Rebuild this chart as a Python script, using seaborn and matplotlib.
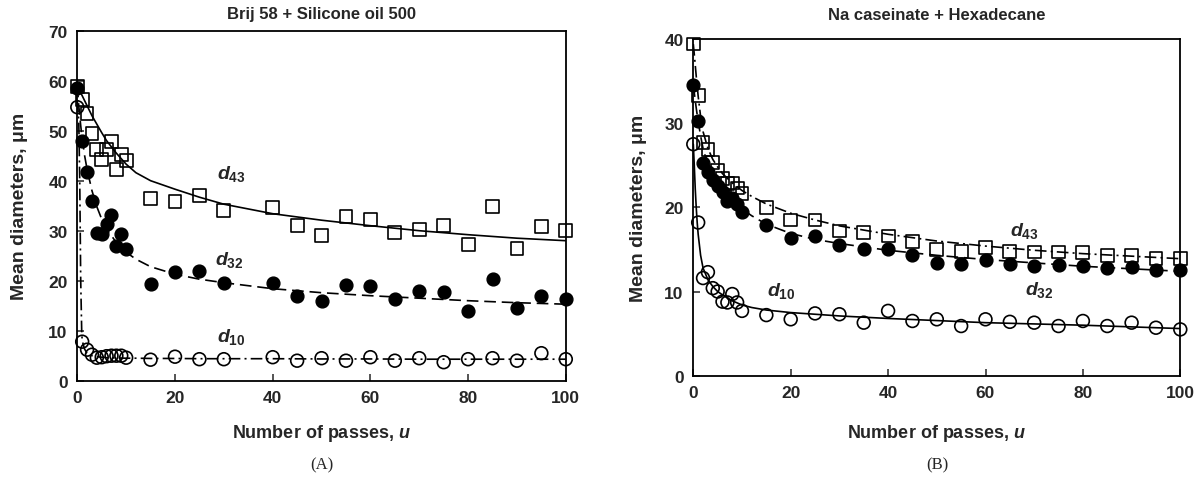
import matplotlib
matplotlib.use("Agg")
import matplotlib.pyplot as plt
import seaborn as sns

# ---------------- Panel A: Brij 58 + Silicone oil 500 ----------------
passes_A = [0, 1, 2, 3, 4, 5, 6, 7, 8, 9, 10, 15, 20, 25, 30,
            40, 45, 50, 55, 60, 65, 70, 75, 80, 85, 90, 95, 100]
d43_A = [58.8, 56.3, 53.5, 49.5, 46.3, 44.3, 46.3, 47.8, 42.3, 45.3, 44.1, 36.5, 35.8, 37.1, 34.0,
         34.7, 31.1, 29.1, 32.9, 32.3, 29.7, 30.3, 31.0, 27.3, 34.8, 26.5, 30.8, 30.0]
d32_A = [58.5, 48.0, 41.8, 36.0, 29.5, 29.3, 31.3, 33.2, 27.0, 29.3, 26.3, 19.3, 21.8, 22.0, 19.5,
         19.5, 17.0, 16.0, 19.1, 19.0, 16.3, 17.9, 17.8, 14.0, 20.3, 14.5, 17.0, 16.3]
d10_A = [54.7, 7.8, 6.2, 5.2, 4.6, 4.7, 4.9, 5.0, 5.0, 5.0, 4.6, 4.2, 4.8, 4.3, 4.3,
         4.7, 4.0, 4.5, 4.0, 4.7, 4.0, 4.5, 3.7, 4.3, 4.5, 4.0, 5.5, 4.3]

# fitted curves, panel A
fit_u_A = [0, 0.3, 0.5, 0.7, 0.9, 1, 1.5, 2, 3, 4, 5, 6, 8, 10, 12, 15, 20, 25, 30,
           40, 50, 60, 70, 80, 90, 100]
fit_d43_A = [59.0, 58.4, 58.0, 57.6, 57.2, 57.0, 56.0, 55.0, 53.0, 51.3, 49.6, 48.0, 45.5, 43.3, 41.6,
             40.0, 38.3, 36.7, 35.3, 33.4, 32.1, 31.0, 30.0, 29.2, 28.5, 28.0]
fit_d32_A = [59.0, 55.0, 53.0, 51.0, 49.3, 48.5, 45.0, 42.3, 38.0, 34.8, 32.3, 30.4, 27.6, 25.7, 24.3,
             22.8, 21.3, 20.3, 19.6, 18.4, 17.6, 17.0, 16.5, 16.0, 15.6, 15.3]
fit_d10_A = [56.0, 52.0, 40.0, 20.0, 10.0, 8.0, 6.3, 5.5, 5.0, 4.8, 4.7, 4.6, 4.55, 4.5, 4.5,
             4.45, 4.45, 4.4, 4.4, 4.4, 4.35, 4.35, 4.3, 4.3, 4.3, 4.3]

# ---------------- Panel B: Na caseinate + Hexadecane ----------------
passes_B = [0, 1, 2, 3, 4, 5, 6, 7, 8, 9, 10, 15, 20, 25, 30, 35,
            40, 45, 50, 55, 60, 65, 70, 75, 80, 85, 90, 95, 100]
d43_B = [39.4, 33.3, 27.7, 26.9, 25.3, 24.4, 23.4, 22.8, 22.9, 22.3, 21.6, 20.0, 18.5, 18.5, 17.2, 17.0,
         16.6, 15.9, 15.0, 14.8, 15.2, 14.8, 14.7, 14.7, 14.6, 14.3, 14.3, 13.9, 13.9]
d32_B = [34.5, 30.2, 25.3, 24.2, 23.2, 22.5, 21.8, 20.8, 21.1, 20.4, 19.5, 17.9, 16.4, 16.6, 15.5, 15.1,
         15.0, 14.3, 13.4, 13.3, 13.7, 13.3, 13.0, 13.1, 13.0, 12.8, 12.9, 12.5, 12.6]
d10_B = [27.5, 18.2, 11.6, 12.3, 10.4, 10.0, 8.8, 8.7, 9.7, 8.7, 7.7, 7.2, 6.7, 7.4, 7.3, 6.3,
         7.7, 6.5, 6.7, 5.9, 6.7, 6.4, 6.3, 5.9, 6.5, 5.9, 6.3, 5.7, 5.5]

# fitted curves, panel B
fit_u_B = [0, 0.2, 0.4, 0.6, 0.8, 1, 1.5, 2, 3, 4, 5, 6, 8, 10, 12, 15, 20, 25, 30,
           40, 50, 60, 70, 80, 90, 100]
fit_d43_B = [39.4, 38.2, 36.9, 35.6, 34.4, 33.2, 30.8, 29.0, 27.0, 25.7, 24.8, 24.0, 22.9, 22.0, 21.3,
             20.4, 19.3, 18.5, 17.8, 16.8, 16.0, 15.4, 14.9, 14.5, 14.2, 13.9]
fit_d32_B = [34.5, 33.6, 32.7, 31.8, 31.0, 30.2, 28.5, 27.0, 25.0, 23.7, 22.8, 22.0, 20.8, 19.8, 19.0,
             18.0, 16.9, 16.2, 15.7, 14.9, 14.3, 13.8, 13.4, 13.0, 12.7, 12.4]
fit_d10_B = [27.5, 25.0, 22.2, 20.0, 18.2, 16.8, 14.3, 12.8, 11.4, 10.6, 10.0, 9.6, 8.9, 8.4, 8.1,
             7.8, 7.5, 7.3, 7.1, 6.8, 6.55, 6.3, 6.15, 6.0, 5.8, 5.6]

titles = ["Brij 58 + Silicone oil 500", "Na caseinate + Hexadecane"]
panel_tags = ["(A)", "(B)"]
x_ticks = [0, 20, 40, 60, 80, 100]

sns.set_style("ticks")
plt.rcParams["font.family"] = ["Liberation Sans", "DejaVu Sans"]
plt.rcParams["mathtext.fontset"] = "custom"
plt.rcParams["mathtext.it"] = "Liberation Sans:italic:bold"
plt.rcParams["mathtext.rm"] = "Liberation Sans:bold"
plt.rcParams["mathtext.bf"] = "Liberation Sans:bold"

W, H = 1195, 485
fig = plt.figure(figsize=(W / 100, H / 100), dpi=100)
fig.patch.set_facecolor("white")

axA = fig.add_axes([77.3 / W, 1 - 381.7 / H, 488.5 / W, 350.0 / H])
axB = fig.add_axes([693.3 / W, 1 - 376.7 / H, 487.0 / W, 336.7 / H])

LW = 1.2
solid = "-"
dashed = (0, (7, 3.5))
dashdot = (0, (7, 2.5, 1.2, 2.5))
MS = 85


def draw_series(ax, u, d, fit_u, fit_d, marker, filled, ls):
    sns.lineplot(x=fit_u, y=fit_d, ax=ax, color="black", lw=LW, linestyle=ls,
                 estimator=None, sort=False, zorder=2)
    if filled:
        sns.scatterplot(x=u, y=d, ax=ax, marker=marker, s=MS, color="black",
                        edgecolor="black", linewidth=1.0, clip_on=False, zorder=3)
    else:
        sns.scatterplot(x=u, y=d, ax=ax, marker=marker, s=MS, facecolor="none",
                        edgecolor="black", linewidth=1.2, clip_on=False, zorder=3)


# panel A
draw_series(axA, passes_A, d43_A, fit_u_A, fit_d43_A, "s", False, solid)
draw_series(axA, passes_A, d32_A, fit_u_A, fit_d32_A, "o", True, dashed)
draw_series(axA, passes_A, d10_A, fit_u_A, fit_d10_A, "o", False, dashdot)

# panel B
draw_series(axB, passes_B, d43_B, fit_u_B, fit_d43_B, "s", False, dashdot)
draw_series(axB, passes_B, d32_B, fit_u_B, fit_d32_B, "o", True, dashed)
draw_series(axB, passes_B, d10_B, fit_u_B, fit_d10_B, "o", False, solid)

axA.set_xlim(0, 100)
axA.set_ylim(0, 70)
axA.set_yticks(range(0, 71, 10))
axB.set_xlim(0, 100)
axB.set_ylim(0, 40)
axB.set_yticks(range(0, 41, 10))

label_kw = dict(fontsize=14, ha="left", va="center")
axA.text(28.6, 41.5, r"$d_{43}$", **label_kw)
axA.text(28.2, 24.3, r"$d_{32}$", **label_kw)
axA.text(28.6, 9.0, r"$d_{10}$", **label_kw)
axB.text(65.0, 17.3, r"$d_{43}$", **label_kw)
axB.text(68.1, 10.3, r"$d_{32}$", **label_kw)
axB.text(15.1, 10.2, r"$d_{10}$", **label_kw)

for ax, ylab_x, xlab_y in [(axA, -0.1, -0.118), (axB, -0.096, -0.1375)]:
    ax.set_xticks(x_ticks)
    ax.tick_params(direction="in", length=5, width=1.1, pad=7,
                   labelsize=12.5, top=False, right=False)
    for lab in ax.get_xticklabels() + ax.get_yticklabels():
        lab.set_fontweight("bold")
    for sp in ax.spines.values():
        sp.set_visible(True)
        sp.set_linewidth(1.3)
        sp.set_color("black")
    ax.set_xlabel("Number of passes, $u$", fontsize=13, fontweight="bold")
    ax.set_ylabel("Mean diameters, μm", fontsize=14, fontweight="bold")
    ax.xaxis.set_label_coords(0.5, xlab_y)
    ax.yaxis.set_label_coords(ylab_x, 0.5)
    ax.set_facecolor("white")

fig.text(321.5 / W, 1 - 15 / H, titles[0], ha="center", va="center",
         fontsize=12, fontweight="bold")
fig.text(936.8 / W, 1 - 15 / H, titles[1], ha="center", va="center",
         fontsize=12, fontweight="bold")
fig.text(322 / W, 1 - 465 / H, panel_tags[0], ha="center", va="center",
         fontsize=12, family="Liberation Serif")
fig.text(937 / W, 1 - 465 / H, panel_tags[1], ha="center", va="center",
         fontsize=12, family="Liberation Serif")

fig.savefig("out.png", dpi=100, facecolor="white")
